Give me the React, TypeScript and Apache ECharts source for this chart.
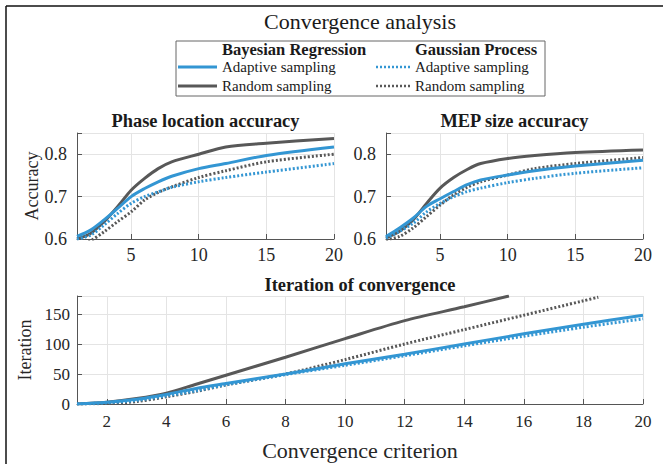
import React, { useEffect, useRef } from "react";
import * as echarts from "echarts";

// ---- data ----
const accX = [1, 2, 3, 4, 5, 6, 7, 8, 10, 12, 15, 20];
const phaseBrAdaptive = [0.606, 0.621, 0.645, 0.672, 0.700, 0.719, 0.735, 0.748, 0.766, 0.778, 0.797, 0.817];
const phaseBrRandom = [0.600, 0.613, 0.641, 0.676, 0.715, 0.743, 0.766, 0.782, 0.800, 0.817, 0.826, 0.837];
const phaseGpAdaptive = [0.600, 0.609, 0.633, 0.660, 0.684, 0.700, 0.711, 0.722, 0.735, 0.745, 0.758, 0.778];
const phaseGpRandom = [0.585, 0.596, 0.617, 0.641, 0.664, 0.692, 0.710, 0.723, 0.745, 0.761, 0.782, 0.800];

const mepBrAdaptive = [0.606, 0.626, 0.649, 0.677, 0.695, 0.712, 0.728, 0.739, 0.751, 0.761, 0.772, 0.786];
const mepBrRandom = [0.602, 0.618, 0.645, 0.684, 0.720, 0.745, 0.764, 0.778, 0.790, 0.797, 0.804, 0.810];
const mepGpAdaptive = [0.602, 0.618, 0.637, 0.664, 0.684, 0.700, 0.712, 0.720, 0.733, 0.743, 0.755, 0.768];
const mepGpRandom = [0.598, 0.606, 0.626, 0.653, 0.680, 0.704, 0.722, 0.735, 0.751, 0.766, 0.778, 0.792];

const iterX = [1, 2, 3, 4, 5, 6, 8, 10, 12, 14, 16, 18, 20];
const iterBrAdaptive = [0, 3, 8, 16, 26, 34, 50, 67, 83, 100, 117, 133, 148];
const iterGpAdaptive = [0, 2, 6, 13.5, 22, 32, 49, 64.5, 80.5, 97, 113, 128, 142];
const iterBrRandomX = [1, 2, 3, 4, 5, 6, 8, 10, 12, 14, 15.5];
const iterBrRandom = [0, 3, 9, 18, 33, 48, 78, 109, 139, 162, 180];
const iterGpRandomX = [1, 2, 3, 4, 5, 6, 8, 10, 12, 14, 16, 18, 18.5];
const iterGpRandom = [0, 1, 4, 12, 21, 31.7, 50, 74, 100, 124, 148, 172, 178];

const BLUE = "#3396d3";
const GRAY = "#585858";
const FONT = "Liberation Serif";

const pairs = (xs: number[], ys: number[]) => xs.map((x, i) => [x, ys[i]]);

function line(name: string, xs: number[], ys: number[], idx: number, color: string, dotted: boolean) {
  return {
    name,
    type: "line",
    xAxisIndex: idx,
    yAxisIndex: idx,
    data: pairs(xs, ys),
    symbol: "none",
    showSymbol: false,
    smooth: 0.3,
    clip: true,
    lineStyle: { color, width: 3, type: dotted ? [2, 2] : "solid" },
  };
}

const axisLabelStyle = (size: number) => ({ fontFamily: FONT, fontSize: size, color: "#262626" });

function xAxisCfg(idx: number, step: number, size: number, margin: number, name?: string) {
  return {
    type: "value",
    gridIndex: idx,
    min: 1,
    max: 20,
    minInterval: step,
    maxInterval: step,
    axisLine: { show: true, lineStyle: { color: "#555", width: 1 } },
    axisTick: { show: true, inside: true, length: 5, lineStyle: { color: "#555" } },
    axisLabel: {
      ...axisLabelStyle(size),
      margin,
      formatter: (v: number) => (Math.abs(v / step - Math.round(v / step)) < 1e-6 ? String(v) : ""),
    },
    splitLine: { show: true, lineStyle: { color: "#e4e4e4", width: 1 } },
    name: name || "",
    nameLocation: "middle",
    nameGap: 35,
    nameTextStyle: { fontFamily: FONT, fontSize: 22, color: "#262626" },
  };
}

function yAxisCfg(idx: number, min: number, max: number, step: number, size: number, margin: number, dec: number, name?: string, gap?: number) {
  return {
    type: "value",
    gridIndex: idx,
    min,
    max,
    minInterval: step,
    maxInterval: step,
    axisLine: { show: true, lineStyle: { color: "#555", width: 1 } },
    axisTick: { show: true, inside: true, length: 5, lineStyle: { color: "#555" } },
    axisLabel: {
      ...axisLabelStyle(size),
      margin,
      formatter: (v: number) => (Math.abs(v / step - Math.round(v / step)) < 1e-6 ? v.toFixed(dec) : ""),
    },
    splitLine: { show: true, lineStyle: { color: "#e4e4e4", width: 1 } },
    name: name || "",
    nameLocation: "middle",
    nameGap: gap || 30,
    nameTextStyle: { fontFamily: FONT, fontSize: 18, color: "#262626" },
  };
}

function txt(text: string, x: number, y: number, size: number, bold: boolean, align = "center") {
  return {
    type: "text",
    x,
    y,
    silent: true,
    style: {
      text,
      fill: "#1a1a1a",
      font: `${bold ? "bold " : ""}${size}px "${FONT}"`,
      textAlign: align,
      textVerticalAlign: "middle",
    },
  };
}

function seg(x1: number, y1: number, x2: number, y2: number, color: string, width: number, dash?: number[]) {
  return {
    type: "line",
    silent: true,
    shape: { x1, y1, x2, y2 },
    style: { stroke: color, lineWidth: width, lineDash: dash || null },
  };
}

export default function App() {
  const ref = useRef<HTMLDivElement>(null);
  useEffect(() => {
    if (!ref.current) return;
    const chart = echarts.init(ref.current, null, { renderer: "svg" });
    chart.setOption({
      animation: false,
      backgroundColor: "#ffffff",
      grid: [
        { left: 77, top: 133, width: 257, height: 106 },
        { left: 386, top: 133, width: 257, height: 106 },
        { left: 77, top: 296, width: 566, height: 108 },
      ],
      xAxis: [
        xAxisCfg(0, 5, 18, 7),
        xAxisCfg(1, 5, 18, 7),
        xAxisCfg(2, 2, 17, 9, "Convergence criterion"),
      ],
      yAxis: [
        yAxisCfg(0, 0.6, 0.85, 0.1, 18, 10, 1, "Accuracy", 32),
        yAxisCfg(1, 0.6, 0.85, 0.1, 18, 10, 1),
        yAxisCfg(2, 0, 180, 50, 17, 7, 0, "Iteration", 33),
      ],
      series: [
        line("BR Random", accX, phaseBrRandom, 0, GRAY, false),
        line("GP Random", accX, phaseGpRandom, 0, GRAY, true),
        line("BR Adaptive", accX, phaseBrAdaptive, 0, BLUE, false),
        line("GP Adaptive", accX, phaseGpAdaptive, 0, BLUE, true),
        line("BR Random", accX, mepBrRandom, 1, GRAY, false),
        line("GP Random", accX, mepGpRandom, 1, GRAY, true),
        line("BR Adaptive", accX, mepBrAdaptive, 1, BLUE, false),
        line("GP Adaptive", accX, mepGpAdaptive, 1, BLUE, true),
        line("BR Random", iterBrRandomX, iterBrRandom, 2, GRAY, false),
        line("GP Random", iterGpRandomX, iterGpRandom, 2, GRAY, true),
        line("BR Adaptive", iterX, iterBrAdaptive, 2, BLUE, false),
        line("GP Adaptive", iterX, iterGpAdaptive, 2, BLUE, true),
      ],
      graphic: [
        seg(6, 6, 663, 6, "#111", 1.5),
        seg(6, 6, 6, 464, "#111", 1.5),
        txt("Convergence analysis", 360, 21, 22, false),
        {
          type: "rect",
          silent: true,
          shape: { x: 176, y: 41, width: 369, height: 55 },
          style: { fill: "#ffffff", stroke: "#666", lineWidth: 1 },
        },
        txt("Bayesian Regression", 222, 49, 16.5, true, "left"),
        txt("Gaussian Process", 415, 49, 16.5, true, "left"),
        seg(178, 67, 217, 67, BLUE, 3),
        txt("Adaptive sampling", 222, 67, 15, false, "left"),
        seg(178, 86, 217, 86, GRAY, 3),
        txt("Random sampling", 222, 86, 15, false, "left"),
        seg(376, 67, 410, 67, BLUE, 2.5, [2, 2]),
        txt("Adaptive sampling", 415, 67, 15, false, "left"),
        seg(376, 86, 410, 86, GRAY, 2.5, [2, 2]),
        txt("Random sampling", 415, 86, 15, false, "left"),
        txt("Phase location accuracy", 205.5, 121, 18.4, true),
        txt("MEP size accuracy", 514.5, 121, 18.4, true),
        txt("Iteration of convergence", 360, 285, 18.4, true),
      ],
    });
    return () => chart.dispose();
  }, []);
  return (
    <div
      ref={ref}
      style={{ position: "fixed", left: 0, top: 0, width: 663, height: 464, background: "#fff" }}
    />
  );
}
